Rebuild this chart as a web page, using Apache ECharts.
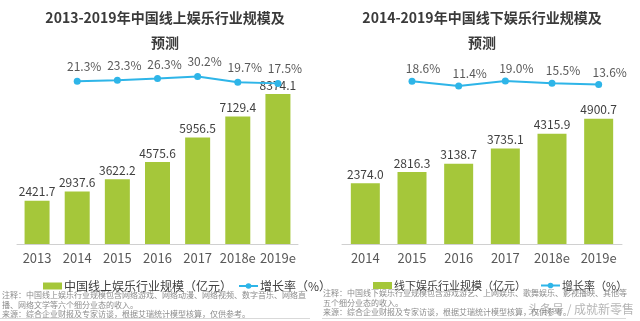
<!DOCTYPE html>
<html><head><meta charset="utf-8">
<script src="https://cdn.jsdelivr.net/npm/echarts@6/dist/echarts.min.js"></script>
<style>html,body{margin:0;padding:0;background:#fff}#c{width:640px;height:321px}</style>
</head><body><div id="c"></div>
<script>
// Left chart: online entertainment
const onlineCats = ['2013','2014','2015','2016','2017','2018e','2019e'];
const onlineScale = [2421.7, 2937.6, 3622.2, 4575.6, 5956.5, 7129.4, 8374.1];
const onlineGrowth = ['-', 21.3, 23.3, 26.3, 30.2, 19.7, 17.5];
// Right chart: offline entertainment
const offlineCats = ['2014','2015','2016','2017','2018e','2019e'];
const offlineScale = [2374.0, 2816.3, 3138.7, 3735.1, 4315.9, 4900.7];
const offlineGrowth = ['-', 18.6, 11.4, 19.0, 15.5, 13.6];

const leftTitle = ['2013-2019年中国线上娱乐行业规模及', '预测'];
const rightTitle = ['2014-2019年中国线下娱乐行业规模及', '预测'];
const leftBarName = '中国线上娱乐行业规模（亿元）';
const rightBarName = '线下娱乐行业规模（亿元）';
const growthName = '增长率（%）';
const leftNotes = ['注释：中国线上娱乐行业规模包含网络游戏、网络动漫、网络视频、数字音乐、网络直', '播、网络文学等六个细分业态的收入。', '来源：综合企业财报及专家访谈，根据艾瑞统计模型核算，仅供参考。'];
const rightNotes = ['注释：中国线下娱乐行业规模包含游戏游艺、上网娱乐、歌舞娱乐、影视播映、其他等', '五个细分业态的收入。', '来源：综合企业财报及专家访谈，根据艾瑞统计模型核算，仅供参考。'];
const watermark = '头条号 / 成就新零售';

const FONT = '"Noto Sans CJK SC", "Noto Sans", sans-serif';
const GREEN = '#A5C73A';
const BLUE = '#2EB5E8';
const chart = echarts.init(document.getElementById('c'), null, {renderer:'canvas'});

function txt(text, x, y, size, color, weight, align, extra) {
  return Object.assign({type:'text', x:x, y:y, silent:true, style:{text:text, fill:color, fontSize:size, fontWeight:weight||'normal', fontFamily:FONT, align:align||'left', verticalAlign:'middle'}}, extra||{});
}
const graphics = [
  txt(leftTitle[0], 165, 18, 14, '#3a3a3a', 'bold', 'center'),
  txt(leftTitle[1], 165, 43, 14, '#3a3a3a', 'bold', 'center'),
  txt(rightTitle[0], 482, 18, 14, '#3a3a3a', 'bold', 'center'),
  txt(rightTitle[1], 482, 43, 14, '#3a3a3a', 'bold', 'center'),
  txt(leftNotes[0], 2, 295, 8, '#8c8c8c'),
  txt(leftNotes[1], 2, 305, 8, '#8c8c8c'),
  txt(leftNotes[2], 2, 314, 8, '#8c8c8c'),
  txt(rightNotes[0], 323, 293, 8, '#8c8c8c'),
  txt(rightNotes[1], 323, 303, 8, '#8c8c8c'),
  txt(rightNotes[2], 323, 312, 8, '#8c8c8c'),
  txt(watermark, 528, 309, 12, 'rgba(120,120,120,0.55)', 'normal', 'left'),
  {type:'line', silent:true, shape:{x1:0,y1:318.5,x2:310,y2:318.5}, style:{stroke:'#d9d9d9', lineWidth:1}},
  {type:'line', silent:true, shape:{x1:322,y1:318.5,x2:626,y2:318.5}, style:{stroke:'#d9d9d9', lineWidth:1}}
];

function xAx(grid, cats, show) {
  return {type:'category', gridIndex:grid, data:cats, show:show,
    axisLine:{show:true, lineStyle:{color:'#d0d0d0', width:1}}, axisTick:{show:false},
    axisLabel:{interval:0, color:'#595959', fontSize:13, fontFamily:FONT, margin:8}};
}
function yAx(grid, min, max) {
  return {type:'value', gridIndex:grid, min:min, max:max, show:false, splitLine:{show:false}};
}

chart.setOption({
  animation:false,
  textStyle:{fontFamily:FONT},
  grid:[
    {left:17, width:281, top:65, height:179},
    {left:17, width:281, top:38, height:55},
    {left:342, width:280, top:65, height:179},
    {left:342, width:280, top:27.5, height:66}
  ],
  xAxis:[xAx(0, onlineCats, true), xAx(1, onlineCats, false), xAx(2, offlineCats, true), xAx(3, offlineCats, false)],
  yAxis:[yAx(0,0,10000), yAx(1,0,100), yAx(2,0,7000), yAx(3,0,100)],
  legend:[
    {left:38, top:275, itemGap:6, itemWidth:19, itemHeight:7,
     textStyle:{color:'#404040', fontSize:12, fontFamily:FONT, padding:[0,0,0,-3]},
     data:[{name:leftBarName, icon:'rect'}, {name:'增长率（%）'}]},
    {left:368, top:275, itemGap:14, itemWidth:19, itemHeight:7,
     textStyle:{color:'#404040', fontSize:11, fontFamily:FONT, padding:[0,0,0,-3]},
     data:[{name:rightBarName, icon:'rect'}, {name:'增长率（%） '}]}
  ],
  graphic:graphics,
  series:[
    {type:'bar', name:leftBarName, xAxisIndex:0, yAxisIndex:0, data:onlineScale, barWidth:25,
     itemStyle:{color:GREEN},
     label:{show:true, position:'top', distance:3, color:'#404040', fontSize:12, fontFamily:FONT, formatter:p=>p.value.toFixed(1)}},
    {type:'line', name:'增长率（%）', xAxisIndex:1, yAxisIndex:1, data:onlineGrowth,
     symbol:'circle', symbolSize:7, lineStyle:{color:BLUE, width:2}, itemStyle:{color:BLUE},
     label:{show:true, position:'top', distance:5, offset:[7,0], color:'#595959', fontSize:12, fontFamily:FONT, formatter:p=>p.value.toFixed(1)+'%'}},
    {type:'bar', name:rightBarName, xAxisIndex:2, yAxisIndex:2, data:offlineScale, barWidth:29,
     itemStyle:{color:GREEN},
     label:{show:true, position:'top', distance:3, color:'#404040', fontSize:12, fontFamily:FONT, formatter:p=>p.value.toFixed(1)}},
    {type:'line', name:'增长率（%） ', xAxisIndex:3, yAxisIndex:3, data:offlineGrowth,
     symbol:'circle', symbolSize:7, lineStyle:{color:BLUE, width:2}, itemStyle:{color:BLUE},
     label:{show:true, position:'top', distance:3, offset:[11,0], color:'#595959', fontSize:12, fontFamily:FONT, formatter:p=>p.value.toFixed(1)+'%'}}
  ]
});
</script></body></html>
